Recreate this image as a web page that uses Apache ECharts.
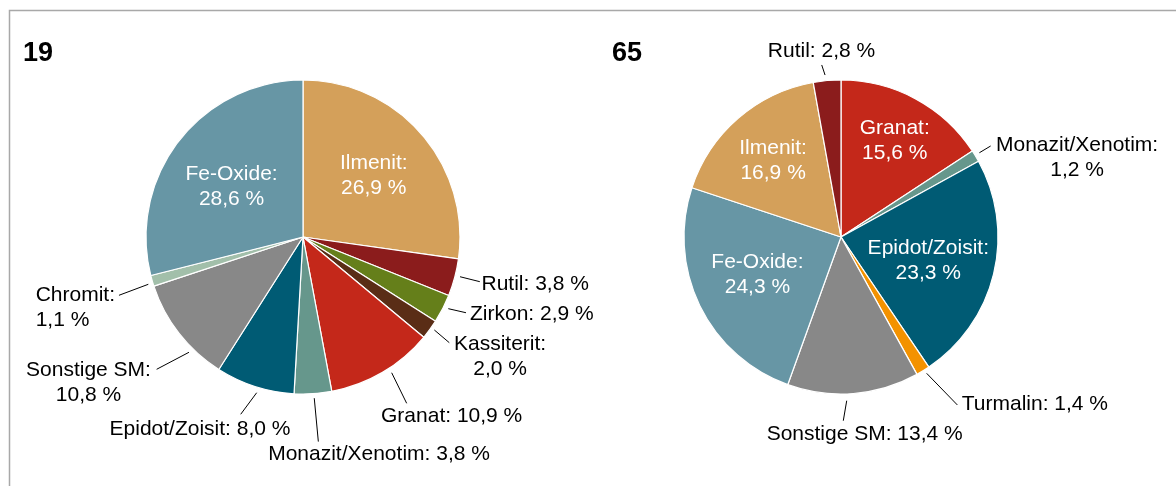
<!DOCTYPE html>
<html>
<head>
<meta charset="utf-8">
<script src="https://cdn.jsdelivr.net/npm/echarts@6/dist/echarts.min.js"></script>
<style>
  html, body { margin: 0; padding: 0; background: #fff; }
  #chart { width: 1176px; height: 486px; }
</style>
</head>
<body>
<div id="chart"></div>
<script>
var titles = ['19', '65'];

// Probe 19, clockwise from 12 o'clock
var names19 = ['Ilmenit', 'Rutil', 'Zirkon', 'Kassiterit', 'Granat', 'Monazit/Xenotim', 'Epidot/Zoisit', 'Sonstige SM', 'Chromit', 'Fe-Oxide'];
var values19 = [26.9, 3.8, 2.9, 2.0, 10.9, 3.8, 8.0, 10.8, 1.1, 28.6];

// Probe 65, clockwise from 12 o'clock
var names65 = ['Granat', 'Monazit/Xenotim', 'Epidot/Zoisit', 'Turmalin', 'Sonstige SM', 'Fe-Oxide', 'Ilmenit', 'Rutil'];
var values65 = [15.6, 1.2, 23.3, 1.4, 13.4, 24.3, 16.9, 2.8];

var colors = {
  'Ilmenit': '#D4A05A',
  'Rutil': '#8B1C1C',
  'Zirkon': '#657F1A',
  'Kassiterit': '#5A2D16',
  'Granat': '#C4281A',
  'Monazit/Xenotim': '#66978C',
  'Epidot/Zoisit': '#005B74',
  'Sonstige SM': '#888888',
  'Chromit': '#A2BFAA',
  'Fe-Oxide': '#6796A5',
  'Turmalin': '#F39200'
};

var R = 157;
var centers = [[303, 237], [841, 237]];
var lineGap = 4.5; // leader lines start a little outside the pie
var fontFamily = 'Liberation Sans, Arial, sans-serif';

// inside labels: f = fraction of the radius, off = small nudge
// outside labels: len = leader length, ls = nudge of leader start/end [x0, y0, x1, y1],
// box = [bx, by, dx, dy]: point (bx, by) of the label box goes to leader end + (dx, dy)
var place19 = {
  'Ilmenit': { f: 0.597, off: [0, 0], br: true },
  'Fe-Oxide': { f: 0.557, off: [-2.4, 3], br: true },
  'Rutil': { len: 26, ls: [1, -1.9, 0, -2.5], box: [0, 0.5, 1.7, 2.1] },
  'Zirkon': { len: 23, ls: [1.6, -2, 2.8, -6.4], box: [0, 0.5, 4, 1.5] },
  'Kassiterit': { len: 23, ls: [0.8, -2.1, 0.8, -0.3], box: [0, 0, 4.7, -10.9], br: true },
  'Granat': { len: 39, ls: [6.9, -3.5, 4.4, -2.7], box: [0.5, 0, 45, 0.7] },
  'Monazit/Xenotim': { len: 48, ls: [1, 0, 2.3, 0], box: [0.5, 0, 60.7, 0] },
  'Epidot/Zoisit': { len: 30.5, ls: [3.2, 2, -4.8, -1.2], box: [0.5, 0, -40.7, 2.2] },
  'Sonstige SM': { len: 40, ls: [13.4, 16.1, 9.1, 11.3], box: [1, 0, -5.7, -11.3], br: true },
  'Chromit': { len: 36, ls: [0.4, 2.2, 1.3, 4.4], box: [1, 0, -4, -12.5], br: true, lines: 'left' }
};
var place65 = {
  'Granat': { f: 0.70, off: [1.5, 0.8], br: true },
  'Epidot/Zoisit': { f: 0.576, off: [-0.6, 2.4], br: true },
  'Fe-Oxide': { f: 0.584, off: [-1.1, -2.2], br: true },
  'Ilmenit': { f: 0.65, off: [-1, 1], br: true },
  'Monazit/Xenotim': { len: 18, ls: [0, -1, -0.3, -0.8], box: [0, 0, 5.3, -13.7], br: true },
  'Turmalin': { len: 47, ls: [1.3, -1.4, 9.8, -6], box: [0, 0.5, 4.4, -0.8] },
  'Sonstige SM': { len: 27, ls: [-7.1, 2.7, -12.3, 0.3], box: [0.5, 0, 21.4, 1.3] },
  'Rutil': { len: 16, ls: [-1.6, -1.1, -3.9, 0.3], box: [0.5, 1, -0.2, -1.7] }
};

var pieNames = [names19, names65];
var pieValues = [values19, values65];
var places = [place19, place65];

function fmt(v) {
  return v.toFixed(1).replace('.', ',') + ' %';
}

function makeData(s) {
  var out = [];
  for (var i = 0; i < pieNames[s].length; i++) {
    var name = pieNames[s][i];
    var cfg = places[s][name];
    var item = { name: name, value: pieValues[s][i], itemStyle: { color: colors[name] } };
    if (cfg.f) {
      item.label = { position: 'inside', color: '#fff' };
      item.labelLine = { show: false };
    } else {
      item.label = { position: 'outside', color: '#000' };
      item.labelLine = { show: true, length: cfg.len, length2: 0 };
    }
    out.push(item);
  }
  return out;
}

function layoutLabel(p) {
  var s = p.seriesIndex;
  var cfg = places[s][pieNames[s][p.dataIndex]];
  var c = centers[s];
  var lr = p.labelRect;
  if (cfg.f) {
    // library puts inside labels at r/2 on the mid angle; move them along that ray
    var mx = lr.x + lr.width / 2, my = lr.y + lr.height / 2;
    var vx0 = mx - c[0], vy0 = my - c[1];
    var d0 = Math.sqrt(vx0 * vx0 + vy0 * vy0);
    return {
      x: c[0] + vx0 / d0 * cfg.f * R + cfg.off[0],
      y: c[1] + vy0 / d0 * cfg.f * R + cfg.off[1],
      align: 'center',
      verticalAlign: 'middle'
    };
  }
  var pts = p.labelLinePoints;
  var p0 = pts[0], p1 = pts[1];
  var vx = p1[0] - p0[0], vy = p1[1] - p0[1];
  var d = Math.sqrt(vx * vx + vy * vy);
  var ls = cfg.ls;
  var start = [p0[0] + vx / d * lineGap + ls[0], p0[1] + vy / d * lineGap + ls[1]];
  var end = [p1[0] + ls[2], p1[1] + ls[3]];
  var b = cfg.box;
  var left = end[0] + b[2] - b[0] * lr.width;
  var top = end[1] + b[3] - b[1] * lr.height;
  var centered = cfg.lines !== 'left';
  return {
    x: centered ? left + lr.width / 2 : left,
    y: top,
    align: centered ? 'center' : 'left',
    verticalAlign: 'top',
    labelLinePoints: [start, end]
  };
}

function makeSeries(s) {
  return {
    type: 'pie',
    center: centers[s],
    radius: R,
    startAngle: 90,
    clockwise: true,
    avoidLabelOverlap: false,
    silent: true,
    data: makeData(s),
    itemStyle: { borderColor: '#fff', borderWidth: 1.2 },
    label: {
      show: true,
      fontFamily: fontFamily,
      fontSize: 21,
      lineHeight: 25,
      formatter: function (prm) {
        var cfg = places[prm.seriesIndex][prm.name];
        return prm.name + ':' + (cfg.br ? '\n' : ' ') + fmt(prm.value);
      }
    },
    labelLine: { lineStyle: { color: '#000', width: 1 }, smooth: false },
    labelLayout: layoutLabel,
    emphasis: { disabled: true }
  };
}

var titleStyle = { fontFamily: fontFamily, fontSize: 27, fontWeight: 'bold', color: '#000' };

var chart = echarts.init(document.getElementById('chart'));
var option = {
  animation: false,
  backgroundColor: '#fff',
  title: [
    { text: titles[0], left: 18, top: 35, textStyle: titleStyle },
    { text: titles[1], left: 607, top: 35, textStyle: titleStyle }
  ],
  graphic: [{
    type: 'rect',
    silent: true,
    z: -1,
    shape: { x: 9.5, y: 10.5, width: 1400, height: 700 },
    style: { fill: 'none', stroke: '#a8a8a8', lineWidth: 1.5 }
  }],
  series: [makeSeries(0), makeSeries(1)]
};
chart.setOption(option);
</script>
</body>
</html>
